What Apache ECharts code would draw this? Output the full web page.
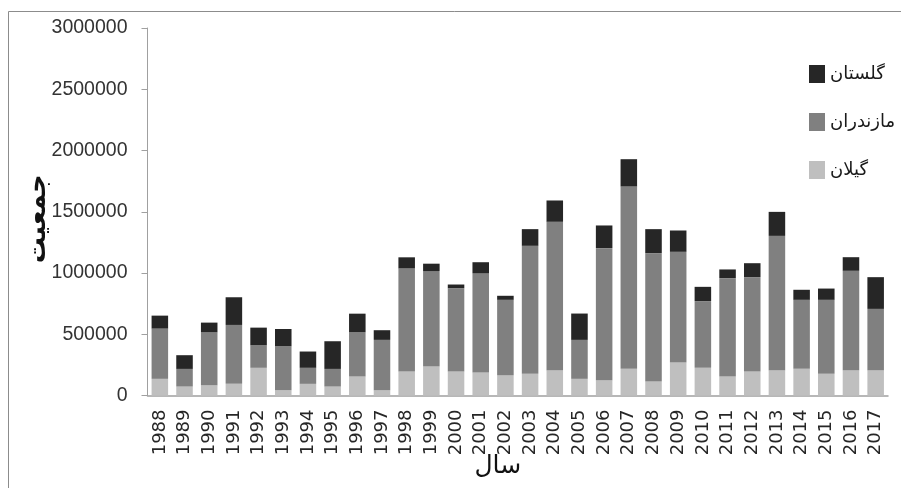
<!DOCTYPE html>
<html>
<head>
<meta charset="utf-8">
<style>
	html, body { margin: 0; padding: 0; background: #fff; }
	#chart { width: 901px; height: 488px; }
</style>
<script src="https://cdn.jsdelivr.net/npm/echarts@6/dist/echarts.min.js"></script>
</head>
<body>
<div id="chart"></div>
<script>
const years = ['1988', '1989', '1990', '1991', '1992', '1993', '1994', '1995', '1996', '1997',
	'1998', '1999', '2000', '2001', '2002', '2003', '2004', '2005', '2006', '2007',
	'2008', '2009', '2010', '2011', '2012', '2013', '2014', '2015', '2016', '2017'];

const gilan = [136000, 73000, 84000, 95000, 226000, 43000, 95000, 73000, 155000, 43000,
	196000, 236000, 196000, 188000, 166000, 177000, 207000, 136000, 125000, 218000,
	114000, 269000, 226000, 155000, 196000, 207000, 218000, 177000, 207000, 207000];

const mazandaran = [410000, 144000, 432000, 481000, 184000, 359000, 131000, 144000, 361000, 411000,
	842000, 780000, 680000, 811000, 615000, 1045000, 1211000, 318000, 1078000, 1488000,
	1048000, 904000, 544000, 803000, 770000, 1096000, 563000, 604000, 811000, 500000];

const golestan = [106000, 112000, 79000, 226000, 144000, 141000, 133000, 226000, 152000, 79000,
	90000, 60000, 30000, 89000, 33000, 136000, 174000, 215000, 185000, 223000,
	196000, 174000, 117000, 71000, 114000, 196000, 82000, 92000, 111000, 259000];

const chart = echarts.init(document.getElementById('chart'));

const option = {
	animation: false,
	backgroundColor: '#fff',
	grid: { left: 147.5, right: 13, top: 28, bottom: 92.5, outerBoundsMode: 'none' },
	legend: {
		orient: 'vertical',
		left: 804,
		top: 60,
		itemWidth: 16,
		itemHeight: 18,
		itemGap: 30,
		icon: 'rect',
		data: ['گلستان', 'مازندران', 'گیلان'],
		textStyle: { fontFamily: 'DejaVu Sans', fontSize: 18, color: '#1a1a1a' }
	},
	xAxis: {
		type: 'category',
		data: years,
		name: 'سال',
		nameLocation: 'middle',
		nameGap: 58,
		nameMoveOverlap: false, // 원본처럼 눈금 글자와 겹치게 둔다
		nameTextStyle: { fontFamily: 'DejaVu Sans', fontSize: 25, color: '#111', padding: [0, 40, 0, 0] },
		axisLine: { lineStyle: { color: '#a0a0a0', width: 1.5 } },
		axisTick: { show: false },
		axisLabel: {
			interval: 0,
			rotate: 90,
			margin: 14,
			fontFamily: 'DejaVu Sans',
			fontSize: 18,
			color: '#262626'
		}
	},
	yAxis: {
		type: 'value',
		min: 0,
		max: 3000000,
		interval: 500000,
		name: 'جمعیت',
		nameLocation: 'middle',
		nameRotate: 90,
		nameGap: 96,
		nameMoveOverlap: false,
		nameTextStyle: { fontFamily: 'DejaVu Sans', fontSize: 26, fontWeight: 'bold', color: '#111', padding: [0, 14, 0, 0] },
		axisLine: { show: true, lineStyle: { color: '#a0a0a0', width: 1 } },
		axisTick: { show: true, length: 6, lineStyle: { color: '#a0a0a0' } },
		axisLabel: {
			margin: 20,
			formatter: value => String(value),
			fontFamily: 'Liberation Sans',
			fontSize: 19.5,
			color: '#333'
		},
		splitLine: { show: false }
	},
	series: [
		{ name: 'گیلان', type: 'bar', stack: 'pop', barWidth: '67%', data: gilan, itemStyle: { color: '#bfbfbf' } },
		{ name: 'مازندران', type: 'bar', stack: 'pop', data: mazandaran, itemStyle: { color: '#808080' } },
		{ name: 'گلستان', type: 'bar', stack: 'pop', data: golestan, itemStyle: { color: '#262626' } }
	],
	// 바깥 테두리 (위, 왼쪽만 보임)
	graphic: [
		{ type: 'line', shape: { x1: 8.5, y1: 11.5, x2: 901, y2: 11.5 }, style: { stroke: '#8c8c8c', lineWidth: 1 } },
		{ type: 'line', shape: { x1: 8.5, y1: 11.5, x2: 8.5, y2: 488 }, style: { stroke: '#8c8c8c', lineWidth: 1 } }
	]
};

chart.setOption(option);
</script>
</body>
</html>
